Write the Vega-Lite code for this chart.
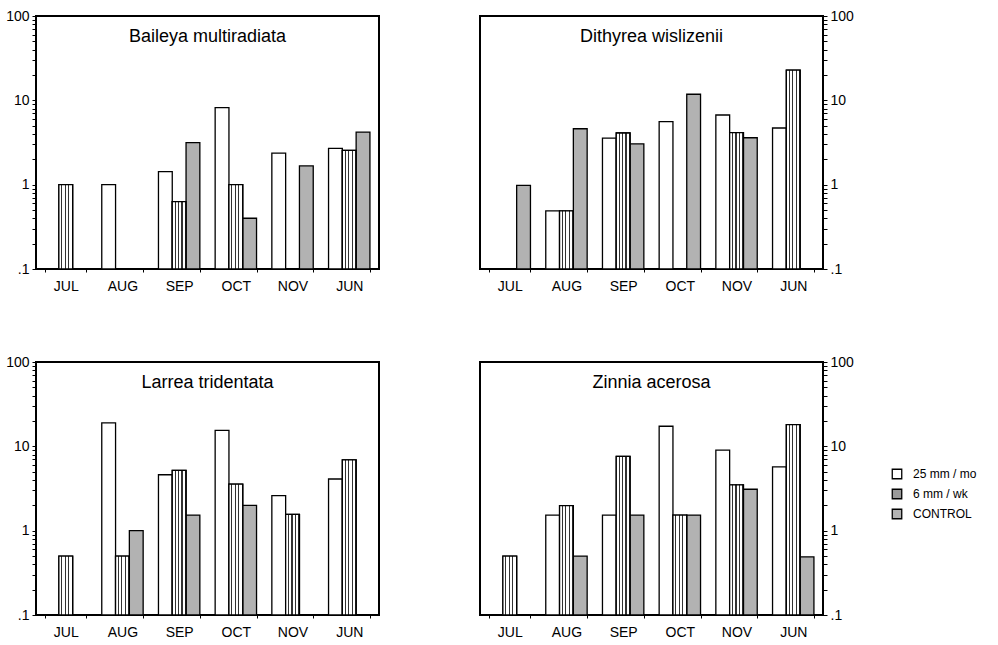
{
  "$schema": "https://vega.github.io/schema/vega-lite/v6.json",
  "padding": {"left": 4, "top": 8, "right": 5, "bottom": 5},
  "background": "white",
  "config": {
    "font": "Liberation Sans",
    "view": {"stroke": "black", "strokeWidth": 2},
    "axis": {"labelFont": "Liberation Sans", "labelFontSize": 14, "labelColor": "black", "tickColor": "black", "domain": false, "grid": false, "title": null},
    "title": {"font": "Liberation Sans", "fontSize": 18, "fontWeight": "normal", "color": "black", "offset": -37, "baseline": "alphabetic", "anchor": "middle"},
    "legend": {"labelFont": "Liberation Sans", "labelFontSize": 12, "labelColor": "black"}
  },
  "data": {"values": [
    {"p": "Baileya multiradiata", "m": "JUL", "s": "6 mm / wk", "v": 1.0},
    {"p": "Baileya multiradiata", "m": "AUG", "s": "25 mm / mo", "v": 1.0},
    {"p": "Baileya multiradiata", "m": "SEP", "s": "25 mm / mo", "v": 1.43},
    {"p": "Baileya multiradiata", "m": "SEP", "s": "6 mm / wk", "v": 0.63},
    {"p": "Baileya multiradiata", "m": "SEP", "s": "CONTROL", "v": 3.16},
    {"p": "Baileya multiradiata", "m": "OCT", "s": "25 mm / mo", "v": 8.2},
    {"p": "Baileya multiradiata", "m": "OCT", "s": "6 mm / wk", "v": 1.0},
    {"p": "Baileya multiradiata", "m": "OCT", "s": "CONTROL", "v": 0.4},
    {"p": "Baileya multiradiata", "m": "NOV", "s": "25 mm / mo", "v": 2.36},
    {"p": "Baileya multiradiata", "m": "NOV", "s": "CONTROL", "v": 1.67},
    {"p": "Baileya multiradiata", "m": "JUN", "s": "25 mm / mo", "v": 2.7},
    {"p": "Baileya multiradiata", "m": "JUN", "s": "6 mm / wk", "v": 2.55},
    {"p": "Baileya multiradiata", "m": "JUN", "s": "CONTROL", "v": 4.2},

    {"p": "Dithyrea wislizenii", "m": "JUL", "s": "CONTROL", "v": 0.98},
    {"p": "Dithyrea wislizenii", "m": "AUG", "s": "25 mm / mo", "v": 0.49},
    {"p": "Dithyrea wislizenii", "m": "AUG", "s": "6 mm / wk", "v": 0.49},
    {"p": "Dithyrea wislizenii", "m": "AUG", "s": "CONTROL", "v": 4.6},
    {"p": "Dithyrea wislizenii", "m": "SEP", "s": "25 mm / mo", "v": 3.56},
    {"p": "Dithyrea wislizenii", "m": "SEP", "s": "6 mm / wk", "v": 4.1},
    {"p": "Dithyrea wislizenii", "m": "SEP", "s": "CONTROL", "v": 3.05},
    {"p": "Dithyrea wislizenii", "m": "OCT", "s": "25 mm / mo", "v": 5.6},
    {"p": "Dithyrea wislizenii", "m": "OCT", "s": "CONTROL", "v": 11.8},
    {"p": "Dithyrea wislizenii", "m": "NOV", "s": "25 mm / mo", "v": 6.7},
    {"p": "Dithyrea wislizenii", "m": "NOV", "s": "6 mm / wk", "v": 4.15},
    {"p": "Dithyrea wislizenii", "m": "NOV", "s": "CONTROL", "v": 3.6},
    {"p": "Dithyrea wislizenii", "m": "JUN", "s": "25 mm / mo", "v": 4.7},
    {"p": "Dithyrea wislizenii", "m": "JUN", "s": "6 mm / wk", "v": 22.8},

    {"p": "Larrea tridentata", "m": "JUL", "s": "6 mm / wk", "v": 0.5},
    {"p": "Larrea tridentata", "m": "AUG", "s": "25 mm / mo", "v": 19.0},
    {"p": "Larrea tridentata", "m": "AUG", "s": "6 mm / wk", "v": 0.5},
    {"p": "Larrea tridentata", "m": "AUG", "s": "CONTROL", "v": 1.0},
    {"p": "Larrea tridentata", "m": "SEP", "s": "25 mm / mo", "v": 4.6},
    {"p": "Larrea tridentata", "m": "SEP", "s": "6 mm / wk", "v": 5.2},
    {"p": "Larrea tridentata", "m": "SEP", "s": "CONTROL", "v": 1.53},
    {"p": "Larrea tridentata", "m": "OCT", "s": "25 mm / mo", "v": 15.5},
    {"p": "Larrea tridentata", "m": "OCT", "s": "6 mm / wk", "v": 3.56},
    {"p": "Larrea tridentata", "m": "OCT", "s": "CONTROL", "v": 2.0},
    {"p": "Larrea tridentata", "m": "NOV", "s": "25 mm / mo", "v": 2.6},
    {"p": "Larrea tridentata", "m": "NOV", "s": "6 mm / wk", "v": 1.56},
    {"p": "Larrea tridentata", "m": "JUN", "s": "25 mm / mo", "v": 4.1},
    {"p": "Larrea tridentata", "m": "JUN", "s": "6 mm / wk", "v": 6.9},

    {"p": "Zinnia acerosa", "m": "JUL", "s": "6 mm / wk", "v": 0.5},
    {"p": "Zinnia acerosa", "m": "AUG", "s": "25 mm / mo", "v": 1.53},
    {"p": "Zinnia acerosa", "m": "AUG", "s": "6 mm / wk", "v": 1.98},
    {"p": "Zinnia acerosa", "m": "AUG", "s": "CONTROL", "v": 0.5},
    {"p": "Zinnia acerosa", "m": "SEP", "s": "25 mm / mo", "v": 1.53},
    {"p": "Zinnia acerosa", "m": "SEP", "s": "6 mm / wk", "v": 7.6},
    {"p": "Zinnia acerosa", "m": "SEP", "s": "CONTROL", "v": 1.53},
    {"p": "Zinnia acerosa", "m": "OCT", "s": "25 mm / mo", "v": 17.3},
    {"p": "Zinnia acerosa", "m": "OCT", "s": "6 mm / wk", "v": 1.53},
    {"p": "Zinnia acerosa", "m": "OCT", "s": "CONTROL", "v": 1.53},
    {"p": "Zinnia acerosa", "m": "NOV", "s": "25 mm / mo", "v": 9.0},
    {"p": "Zinnia acerosa", "m": "NOV", "s": "6 mm / wk", "v": 3.5},
    {"p": "Zinnia acerosa", "m": "NOV", "s": "CONTROL", "v": 3.1},
    {"p": "Zinnia acerosa", "m": "JUN", "s": "25 mm / mo", "v": 5.7},
    {"p": "Zinnia acerosa", "m": "JUN", "s": "6 mm / wk", "v": 18.1},
    {"p": "Zinnia acerosa", "m": "JUN", "s": "CONTROL", "v": 0.49}
  ]},
  "columns": 2,
  "spacing": {"column": 99, "row": 60},
  "resolve": {"scale": {"fill": "independent"}, "legend": {"fill": "independent"}},
  "concat": [
    {
      "width": 343, "height": 253,
      "title": {"text": "Baileya multiradiata"},
      "transform": [{"filter": "datum.p == 'Baileya multiradiata'"}],
      "encoding": {
        "x": {"field": "m", "type": "nominal", "scale": {"domain": ["JUL","AUG","SEP","OCT","NOV","JUN"], "paddingInner": 0.27, "paddingOuter": 0.16}, "axis": {"labelAngle": 0, "tickBand": "extent", "tickSize": 3, "labelPadding": 7}},
        "xOffset": {"field": "s", "type": "nominal", "scale": {"domain": ["25 mm / mo","6 mm / wk","CONTROL"], "paddingInner": 0, "paddingOuter": 0}},
        "y": {"field": "v", "type": "quantitative", "scale": {"type": "log", "domain": [0.1, 100], "nice": false}, "axis": {"orient": "left", "values": [0.1,0.2,0.3,0.4,0.5,0.6,0.7,0.8,0.9,1,2,3,4,5,6,7,8,9,10,20,30,40,50,60,70,80,90,100], "labelExpr": "datum.value == 100 ? '100' : datum.value == 10 ? '10' : datum.value == 1 ? '1' : datum.value == 0.1 ? '.1' : ''", "labelOverlap": false, "tickSize": 4, "labelPadding": 3}},
        "y2": {"datum": 0.1}
      },
      "layer": [
        {"mark": {"type": "bar", "stroke": "black", "strokeWidth": 1.3},
         "encoding": {"fill": {"field": "s", "type": "nominal", "scale": {"domain": ["25 mm / mo","6 mm / wk","CONTROL"], "range": ["white", "#9a9a9a", "#b2b2b2"]}, "legend": null}}},
        {"transform": [{"filter": "datum.s == '6 mm / wk'"}],
         "mark": {"type": "bar", "stroke": "black", "strokeWidth": 1.3, "fill": {"gradient": "linear", "x1": 0, "y1": 0, "x2": 1, "y2": 0, "stops": [{"offset": 0, "color": "white"}, {"offset": 0.17, "color": "white"}, {"offset": 0.17, "color": "#333"}, {"offset": 0.25, "color": "#333"}, {"offset": 0.25, "color": "white"}, {"offset": 0.42, "color": "white"}, {"offset": 0.42, "color": "#333"}, {"offset": 0.5, "color": "#333"}, {"offset": 0.5, "color": "white"}, {"offset": 0.67, "color": "white"}, {"offset": 0.67, "color": "#333"}, {"offset": 0.75, "color": "#333"}, {"offset": 0.75, "color": "white"}, {"offset": 0.92, "color": "white"}, {"offset": 0.92, "color": "#333"}, {"offset": 1, "color": "#333"}]}}}
      ]
    },
    {
      "width": 343, "height": 253,
      "title": {"text": "Dithyrea wislizenii"},
      "transform": [{"filter": "datum.p == 'Dithyrea wislizenii'"}],
      "encoding": {
        "x": {"field": "m", "type": "nominal", "scale": {"domain": ["JUL","AUG","SEP","OCT","NOV","JUN"], "paddingInner": 0.27, "paddingOuter": 0.16}, "axis": {"labelAngle": 0, "tickBand": "extent", "tickSize": 3, "labelPadding": 7}},
        "xOffset": {"field": "s", "type": "nominal", "scale": {"domain": ["25 mm / mo","6 mm / wk","CONTROL"], "paddingInner": 0, "paddingOuter": 0}},
        "y": {"field": "v", "type": "quantitative", "scale": {"type": "log", "domain": [0.1, 100], "nice": false}, "axis": {"orient": "right", "values": [0.1,0.2,0.3,0.4,0.5,0.6,0.7,0.8,0.9,1,2,3,4,5,6,7,8,9,10,20,30,40,50,60,70,80,90,100], "labelExpr": "datum.value == 100 ? '100' : datum.value == 10 ? '10' : datum.value == 1 ? '1' : datum.value == 0.1 ? '.1' : ''", "labelOverlap": false, "tickSize": 4, "labelPadding": 3}},
        "y2": {"datum": 0.1}
      },
      "layer": [
        {"mark": {"type": "bar", "stroke": "black", "strokeWidth": 1.3},
         "encoding": {"fill": {"field": "s", "type": "nominal", "scale": {"domain": ["25 mm / mo","6 mm / wk","CONTROL"], "range": ["white", "#9a9a9a", "#b2b2b2"]}, "legend": null}}},
        {"transform": [{"filter": "datum.s == '6 mm / wk'"}],
         "mark": {"type": "bar", "stroke": "black", "strokeWidth": 1.3, "fill": {"gradient": "linear", "x1": 0, "y1": 0, "x2": 1, "y2": 0, "stops": [{"offset": 0, "color": "white"}, {"offset": 0.17, "color": "white"}, {"offset": 0.17, "color": "#333"}, {"offset": 0.25, "color": "#333"}, {"offset": 0.25, "color": "white"}, {"offset": 0.42, "color": "white"}, {"offset": 0.42, "color": "#333"}, {"offset": 0.5, "color": "#333"}, {"offset": 0.5, "color": "white"}, {"offset": 0.67, "color": "white"}, {"offset": 0.67, "color": "#333"}, {"offset": 0.75, "color": "#333"}, {"offset": 0.75, "color": "white"}, {"offset": 0.92, "color": "white"}, {"offset": 0.92, "color": "#333"}, {"offset": 1, "color": "#333"}]}}}
      ]
    },
    {
      "width": 343, "height": 253,
      "title": {"text": "Larrea tridentata"},
      "transform": [{"filter": "datum.p == 'Larrea tridentata'"}],
      "encoding": {
        "x": {"field": "m", "type": "nominal", "scale": {"domain": ["JUL","AUG","SEP","OCT","NOV","JUN"], "paddingInner": 0.27, "paddingOuter": 0.16}, "axis": {"labelAngle": 0, "tickBand": "extent", "tickSize": 3, "labelPadding": 7}},
        "xOffset": {"field": "s", "type": "nominal", "scale": {"domain": ["25 mm / mo","6 mm / wk","CONTROL"], "paddingInner": 0, "paddingOuter": 0}},
        "y": {"field": "v", "type": "quantitative", "scale": {"type": "log", "domain": [0.1, 100], "nice": false}, "axis": {"orient": "left", "values": [0.1,0.2,0.3,0.4,0.5,0.6,0.7,0.8,0.9,1,2,3,4,5,6,7,8,9,10,20,30,40,50,60,70,80,90,100], "labelExpr": "datum.value == 100 ? '100' : datum.value == 10 ? '10' : datum.value == 1 ? '1' : datum.value == 0.1 ? '.1' : ''", "labelOverlap": false, "tickSize": 4, "labelPadding": 3}},
        "y2": {"datum": 0.1}
      },
      "layer": [
        {"mark": {"type": "bar", "stroke": "black", "strokeWidth": 1.3},
         "encoding": {"fill": {"field": "s", "type": "nominal", "scale": {"domain": ["25 mm / mo","6 mm / wk","CONTROL"], "range": ["white", "#9a9a9a", "#b2b2b2"]}, "legend": null}}},
        {"transform": [{"filter": "datum.s == '6 mm / wk'"}],
         "mark": {"type": "bar", "stroke": "black", "strokeWidth": 1.3, "fill": {"gradient": "linear", "x1": 0, "y1": 0, "x2": 1, "y2": 0, "stops": [{"offset": 0, "color": "white"}, {"offset": 0.17, "color": "white"}, {"offset": 0.17, "color": "#333"}, {"offset": 0.25, "color": "#333"}, {"offset": 0.25, "color": "white"}, {"offset": 0.42, "color": "white"}, {"offset": 0.42, "color": "#333"}, {"offset": 0.5, "color": "#333"}, {"offset": 0.5, "color": "white"}, {"offset": 0.67, "color": "white"}, {"offset": 0.67, "color": "#333"}, {"offset": 0.75, "color": "#333"}, {"offset": 0.75, "color": "white"}, {"offset": 0.92, "color": "white"}, {"offset": 0.92, "color": "#333"}, {"offset": 1, "color": "#333"}]}}}
      ]
    },
    {
      "width": 343, "height": 253,
      "title": {"text": "Zinnia acerosa"},
      "transform": [{"filter": "datum.p == 'Zinnia acerosa'"}],
      "encoding": {
        "x": {"field": "m", "type": "nominal", "scale": {"domain": ["JUL","AUG","SEP","OCT","NOV","JUN"], "paddingInner": 0.27, "paddingOuter": 0.16}, "axis": {"labelAngle": 0, "tickBand": "extent", "tickSize": 3, "labelPadding": 7}},
        "xOffset": {"field": "s", "type": "nominal", "scale": {"domain": ["25 mm / mo","6 mm / wk","CONTROL"], "paddingInner": 0, "paddingOuter": 0}},
        "y": {"field": "v", "type": "quantitative", "scale": {"type": "log", "domain": [0.1, 100], "nice": false}, "axis": {"orient": "right", "values": [0.1,0.2,0.3,0.4,0.5,0.6,0.7,0.8,0.9,1,2,3,4,5,6,7,8,9,10,20,30,40,50,60,70,80,90,100], "labelExpr": "datum.value == 100 ? '100' : datum.value == 10 ? '10' : datum.value == 1 ? '1' : datum.value == 0.1 ? '.1' : ''", "labelOverlap": false, "tickSize": 4, "labelPadding": 3}},
        "y2": {"datum": 0.1}
      },
      "layer": [
        {"mark": {"type": "bar", "stroke": "black", "strokeWidth": 1.3},
         "encoding": {"fill": {"field": "s", "type": "nominal", "scale": {"domain": ["25 mm / mo","6 mm / wk","CONTROL"], "range": ["white", "#9a9a9a", "#b2b2b2"]}, "legend": {"title": null, "orient": "none", "legendX": 411, "legendY": 106, "symbolType": "square", "symbolSize": 90, "symbolStrokeColor": "black", "symbolStrokeWidth": 1.3, "rowPadding": 4, "labelOffset": 10}}}},
        {"transform": [{"filter": "datum.s == '6 mm / wk'"}],
         "mark": {"type": "bar", "stroke": "black", "strokeWidth": 1.3, "fill": {"gradient": "linear", "x1": 0, "y1": 0, "x2": 1, "y2": 0, "stops": [{"offset": 0, "color": "white"}, {"offset": 0.17, "color": "white"}, {"offset": 0.17, "color": "#333"}, {"offset": 0.25, "color": "#333"}, {"offset": 0.25, "color": "white"}, {"offset": 0.42, "color": "white"}, {"offset": 0.42, "color": "#333"}, {"offset": 0.5, "color": "#333"}, {"offset": 0.5, "color": "white"}, {"offset": 0.67, "color": "white"}, {"offset": 0.67, "color": "#333"}, {"offset": 0.75, "color": "#333"}, {"offset": 0.75, "color": "white"}, {"offset": 0.92, "color": "white"}, {"offset": 0.92, "color": "#333"}, {"offset": 1, "color": "#333"}]}}}
      ]
    }
  ]
}
